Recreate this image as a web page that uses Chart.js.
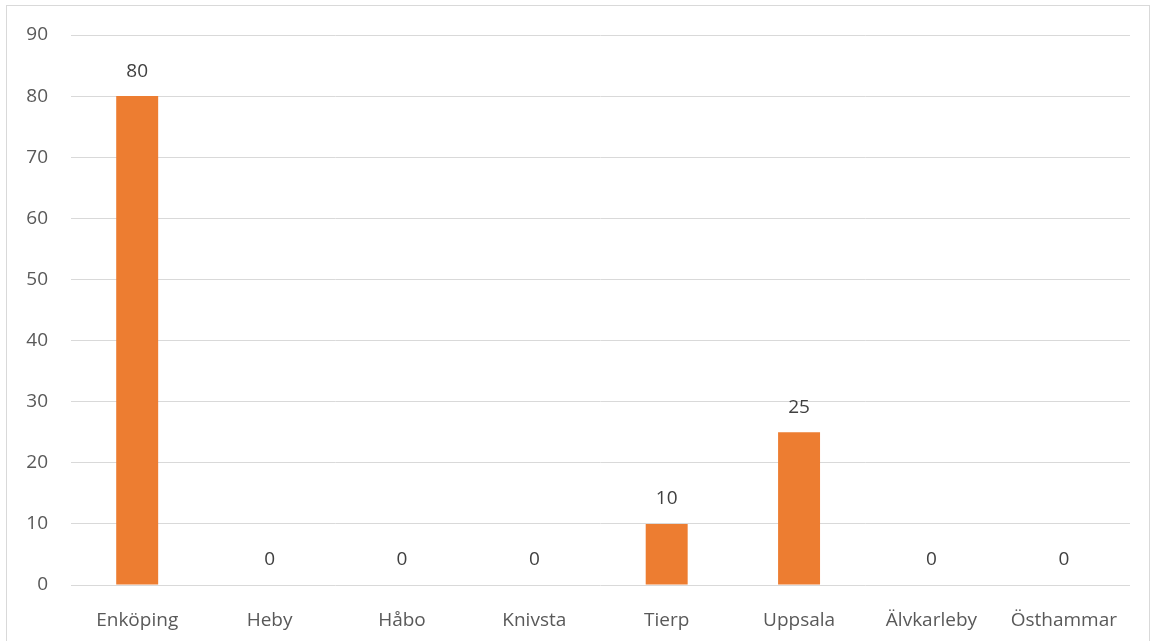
<!DOCTYPE html>
<html>
<head>
<meta charset="utf-8">
<script src="https://cdn.jsdelivr.net/npm/chart.js@4/dist/chart.umd.min.js"></script>
<style>
  body { margin: 0; background: #fff; }
  #wrap { position: relative; width: 1152px; height: 641px; }
  #frame {
    position: absolute; left: 6px; top: 5px; width: 1144px; height: 640px;
    border: 1px solid #d9d9d9; box-sizing: border-box; pointer-events: none;
  }
</style>
</head>
<body>
<div id="wrap">
  <canvas id="chart" width="1152" height="641"></canvas>
  <div id="frame"></div>
</div>
<script>
// Municipalities and counts
const categories = ["Enköping", "Heby", "Håbo", "Knivsta", "Tierp", "Uppsala", "Älvkarleby", "Östhammar"];
const values = [80, 0, 0, 0, 10, 25, 0, 0];
const yTicks = [0, 10, 20, 30, 40, 50, 60, 70, 80, 90];

const FONT = "'Open Sans', 'Liberation Sans', sans-serif";

// Draw value labels above each bar
const valueLabels = {
  id: "valueLabels",
  afterDatasetsDraw(chart) {
    let ctx = chart.ctx;
    let meta = chart.getDatasetMeta(0);
    ctx.save();
    ctx.font = "19px " + FONT;
    ctx.fillStyle = "#404040";
    ctx.textAlign = "center";
    ctx.textBaseline = "middle";
    meta.data.forEach((bar, i) => {
      ctx.fillText(String(values[i]), bar.x, bar.y - 25);
    });
    ctx.restore();
  },
};

new Chart(document.getElementById("chart").getContext("2d"), {
  type: "bar",
  data: {
    labels: categories,
    datasets: [
      {
        data: values,
        backgroundColor: "#ED7D31",
        categoryPercentage: 1,
        barPercentage: 0.317,
      },
    ],
  },
  options: {
    responsive: false,
    animation: false,
    layout: { padding: { top: 35, right: 22, bottom: 0, left: 0 } },
    plugins: {
      legend: { display: false },
      tooltip: { enabled: false },
    },
    scales: {
      x: {
        grid: { display: false },
        border: { display: false },
        ticks: { color: "#595959", font: { size: 19, family: FONT }, padding: 16, maxRotation: 0 },
        afterFit: (s) => { s.height = 56; },
      },
      y: {
        min: 0,
        max: 90,
        afterBuildTicks: (s) => { s.ticks = yTicks.map((v) => ({ value: v })); },
        grid: { color: "#d9d9d9", drawTicks: false },
        border: { display: false },
        ticks: { color: "#595959", font: { size: 19, family: FONT }, padding: 23 },
        afterFit: (s) => { s.width = 71; },
      },
    },
  },
  plugins: [valueLabels],
});
</script>
</body>
</html>
